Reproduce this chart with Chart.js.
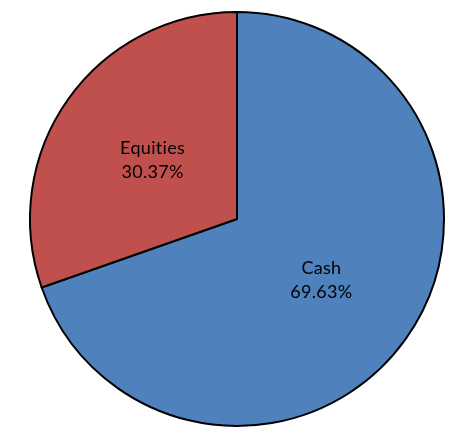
<!DOCTYPE html>
<html>
<head>
<meta charset="utf-8">
<script src="https://cdn.jsdelivr.net/npm/chart.js@4/dist/chart.umd.min.js"></script>
<style>
  html, body { margin: 0; padding: 0; background: #fff; }
  #wrap { width: 474px; height: 440px; }
</style>
</head>
<body>
<div id="wrap"><canvas id="c" width="474" height="440"></canvas></div>
<script>
const categories = ["Cash", "Equities"];
const values = [69.63, 30.37];
const colors = ["#4F81BD", "#C0504D"];

const labelPlugin = {
  id: 'sliceLabels',
  afterDatasetsDraw(chart) {
    const ctx = chart.ctx;
    const meta = chart.getDatasetMeta(0);
    ctx.save();
    ctx.fillStyle = '#000';
    ctx.font = '18px Lato, "Open Sans", sans-serif';
    if ('letterSpacing' in ctx) ctx.letterSpacing = '0.3px';
    ctx.textAlign = 'center';
    ctx.textBaseline = 'middle';
    meta.data.forEach((arc, i) => {
      const p = arc.tooltipPosition();
      ctx.fillText(categories[i], p.x, p.y - 11);
      ctx.fillText(values[i].toFixed(2) + '%', p.x, p.y + 13);
    });
    ctx.restore();
  }
};

new Chart(document.getElementById('c'), {
  type: 'pie',
  data: {
    labels: categories,
    datasets: [{
      data: values,
      backgroundColor: colors,
      borderColor: '#000',
      borderWidth: 2,
      borderJoinStyle: 'miter'
    }]
  },
  options: {
    responsive: false,
    animation: false,
    layout: { padding: { top: 11, bottom: 13, left: 29, right: 29 } },
    plugins: {
      legend: { display: false },
      tooltip: { enabled: false }
    }
  },
  plugins: [labelPlugin]
});
</script>
</body>
</html>
